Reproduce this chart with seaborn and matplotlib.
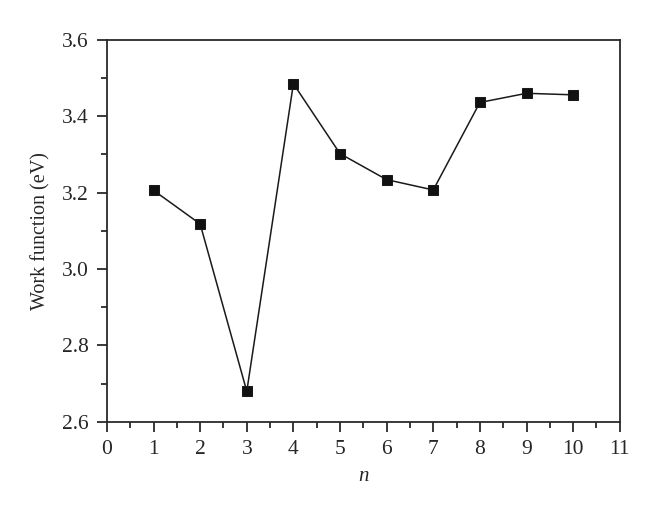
import matplotlib
matplotlib.use("Agg")
import matplotlib.pyplot as plt
from matplotlib.ticker import MultipleLocator
import seaborn as sns
import pandas as pd

# data
n_values = [1, 2, 3, 4, 5, 6, 7, 8, 9, 10]
work_function = [3.206, 3.118, 2.680, 3.485, 3.302, 3.234, 3.207, 3.436, 3.460, 3.456]

df = pd.DataFrame({"n": n_values, "wf": work_function})

sns.set_style("ticks")
plt.rcParams["font.family"] = ["Liberation Serif", "DejaVu Serif"]
plt.rcParams.update({"font.size": 15})

fig = plt.figure(figsize=(6.6, 5.17), dpi=100)
ax = fig.add_axes([0.162, 0.184, 0.777, 0.739])

sns.lineplot(data=df, x="n", y="wf", ax=ax, color="#1a1a1a", linewidth=1.1,
             marker="s", markersize=6.5, markeredgecolor="#1a1a1a", markerfacecolor="#111111")

ax.set_xlim(0, 11)
ax.set_ylim(2.6, 3.6)
ax.xaxis.set_major_locator(MultipleLocator(1))
ax.xaxis.set_minor_locator(MultipleLocator(0.5))
ax.yaxis.set_major_locator(MultipleLocator(0.2))
ax.yaxis.set_minor_locator(MultipleLocator(0.1))
ax.yaxis.set_major_formatter(matplotlib.ticker.FormatStrFormatter("%.1f"))

for s in ax.spines.values():
    s.set_color("#2a2a2a")
    s.set_linewidth(1.3)
ax.tick_params(which="major", direction="out", length=7, width=1.3, color="#2a2a2a",
               labelsize=15.5, pad=6, top=False, right=False)
ax.tick_params(which="minor", direction="out", length=4, width=1.3, color="#2a2a2a",
               top=False, right=False)

ax.set_xlabel("n", fontsize=15, fontstyle="italic", labelpad=6)
ax.set_ylabel("Work function (eV)", fontsize=14.5, labelpad=8)

fig.savefig("out.png", dpi=100)
